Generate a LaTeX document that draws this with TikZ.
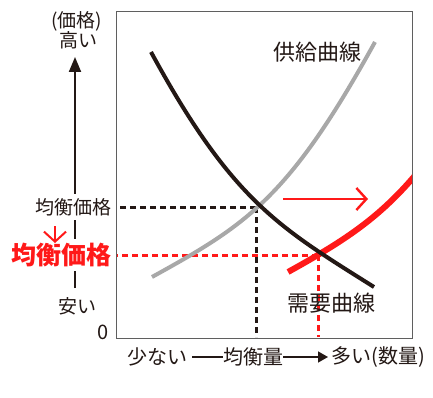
\documentclass[tikz,border=0pt]{standalone}
\usepackage{fontspec}
\newfontfamily\jp{Noto Sans CJK JP}
\usetikzlibrary{arrows.meta}
\definecolor{ink}{RGB}{35,24,21}
\definecolor{supgray}{RGB}{168,168,168}
\definecolor{hired}{RGB}{255,25,25}
\definecolor{boxgray}{RGB}{95,95,95}
\begin{document}
\begin{tikzpicture}[x=1pt,y=-1pt,
  lbl/.style={font=\jp\fontsize{19}{19}\selectfont, text=ink, inner sep=0pt},
  curvelbl/.style={font=\jp\fontsize{22}{22}\selectfont, text=ink, inner sep=0pt},
  botlbl/.style={font=\jp\fontsize{20}{20}\selectfont, text=ink, inner sep=0pt},
  redlbl/.style={font=\jp\bfseries\fontsize{25}{25}\selectfont, text=hired, inner sep=0pt},
  dashblack/.style={draw=ink, line width=3pt, dash pattern=on 6pt off 4pt},
  dashred/.style={draw=hired, line width=3pt, dash pattern=on 6pt off 4pt},
  curve/.style={line width=4pt, line cap=butt}
]
\useasboundingbox (0,0) rectangle (433,398);
% frame
\draw[boxgray, line width=1pt] (116,12) rectangle (412,338);

% equilibrium points
\coordinate (eqA) at (256,207);
\coordinate (eqB) at (318,255);
\coordinate (eqAx) at (117,207);
\coordinate (eqAb) at (256,337);
\coordinate (eqBx) at (117,255);
\coordinate (eqBb) at (318,337);

% dashed guides
\draw[dashblack] (eqA) -- (eqAx);
\draw[dashblack] (eqA) -- (eqAb);
\draw[dashred] (eqB) -- (eqBx);
\draw[dashred] (eqB) -- (eqBb);

% supply curve (gray)
\draw[curve, supgray] (152,277) .. controls (247,224.5) and (289,198) .. (375,42);
% shifted supply (red)
\begin{scope}
\clip (116,12) rectangle (412,338);
\clip (238.6,182.5) -- (335.4,357.5) -- (420,357.5) -- (420,0) -- (238.6,0) -- cycle;
\draw[line width=6pt, hired] (279,277) .. controls (374,224.5) and (416,198) .. (502,42);
\end{scope}
% demand curve (black)
\draw[curve, ink] (151,52) .. controls (232.4,201.6) and (279.5,227.5) .. (374,287);

% red shift arrow
\coordinate (sA) at (283,199);
\coordinate (sB) at (368,199);
\draw[hired, line width=2.4pt, -{Straight Barb[length=10pt, width=22pt, line width=2.4pt]}] (sA) -- (sB);

% vertical axis
\coordinate (axbot) at (75,288);
\coordinate (axtop) at (75,57);
\draw[ink, line width=2pt, -{Triangle[length=15pt, width=12pt]}] (axbot) -- (axtop);

% labels
\node[lbl] (kakaku) at (76.5,21) {(価格)};
\node[lbl] (takai) at (78.5,40) {高い};
\node[lbl, fill=white, inner ysep=4pt, inner xsep=1pt] (eqp) at (73,207) {均衡価格};
\node[redlbl, fill=white, inner ysep=4pt, inner xsep=1pt] (eqpred) at (61.5,255) {均衡価格};
\coordinate (dnA) at (55,226);
\coordinate (dnB) at (55,243);
\draw[hired, line width=2pt, -{Straight Barb[length=10pt, width=22pt, line width=2pt]}] (dnA) -- (dnB);
\node[lbl] (yasui) at (77,306) {安い};
\node[font=\jp\fontsize{20}{20}\selectfont, text=ink, inner sep=0pt] (zero) at (103,332) {0};

\node[curvelbl] (supply) at (317,52) {供給曲線};
\node[curvelbl] (demand) at (331,303) {需要曲線};

\node[botlbl] (sukunai) at (157,357) {少ない};
\node[botlbl] (eqq) at (253,357) {均衡量};
\node[botlbl] (ooi) at (378,357) {多い(数量)};
\coordinate (qstart) at (192,357);
\coordinate (qend) at (328,357);
\draw[ink, line width=1.5pt] (qstart) -- (eqq.west);
\draw[ink, line width=1.5pt, -{Triangle[length=10pt, width=11pt]}] (eqq.east) -- (qend);
\end{tikzpicture}
\end{document}
